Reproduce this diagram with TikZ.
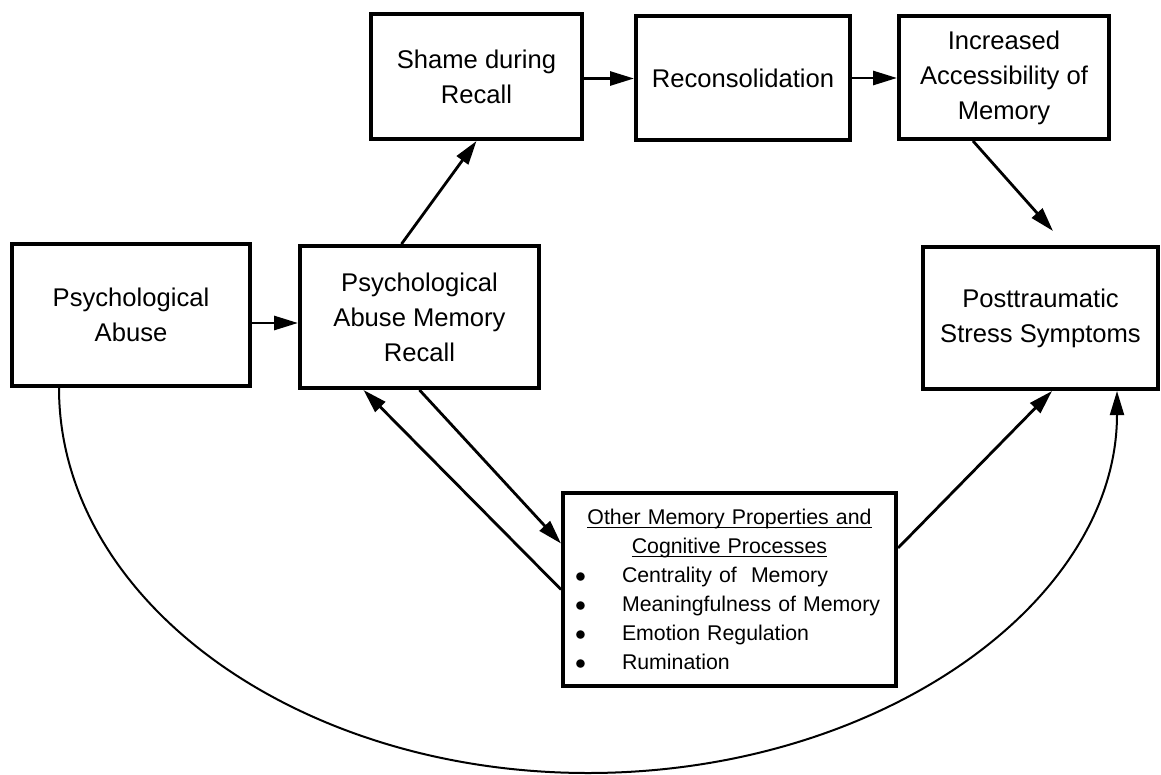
\documentclass[tikz,border=0pt]{standalone}
\usepackage{fontspec}
\setmainfont{Liberation Sans}
\usetikzlibrary{arrows.meta}

\newcommand\headline[1]{\makebox[\hsize]{\underline{\smash{#1}}\vphantom{#1}}}
\newcommand\listitem{\makebox[23.5pt][l]{$\bullet$}}

\begin{document}
\begin{tikzpicture}[x=0.5pt, y=-0.5pt,
  block/.style={draw, line width=2pt, align=center, inner sep=0pt, font=\fontsize{12.8}{17.5}\selectfont},
  listblock/.style={draw, line width=2pt, align=left, inner xsep=6pt, inner ysep=0pt, text width=154.5pt, minimum height=96.5pt, font=\fontsize{10.65}{14.5}\selectfont},
  arrowline/.style={line width=1.4pt, -{Triangle[length=12pt,width=7pt]}},
  loopline/.style={line width=1pt, -{Triangle[length=12pt,width=7pt]}}]
\useasboundingbox (0,0) rectangle (1161,775);
\node[block, minimum width=119pt, minimum height=71pt] (abuse) at (131,315) {Psychological\\Abuse};
\node[block, minimum width=119.5pt, minimum height=71pt] (recall) at (419.5,317) {Psychological\\Abuse Memory\\Recall};
\node[block, minimum width=105.5pt, minimum height=62.5pt] (shame) at (476.5,76.5) {Shame during\\Recall};
\node[block, minimum width=107pt, minimum height=62pt] (recons) at (743,78) {Reconsolidation};
\node[block, minimum width=105pt, minimum height=61.5pt] (incr) at (1004,77.5) {Increased\\Accessibility of\\Memory};
\node[block, minimum width=117.5pt, minimum height=71pt] (ptss) at (1040.5,318) {Posttraumatic\\Stress Symptoms};
\node[listblock] (other) at (729.5,589.5) {\headline{Other Memory Properties and}\\
  \headline{Cognitive Processes}\\
  \listitem Centrality of~ Memory\\
  \listitem Meaningfulness of Memory\\
  \listitem Emotion Regulation\\
  \listitem Rumination};
\coordinate (ptsstip) at (1053,231);
\coordinate (arcbottom) at (588,773);
\draw[arrowline] ([yshift=-4pt]abuse.east) -- ([yshift=-4pt]abuse.east -| recall.west);
\draw[arrowline] ([xshift=-9pt]recall.north) -- (shame.south);
\draw[arrowline] ([yshift=-1pt]shame.east) -- ([yshift=-1pt]shame.east -| recons.west);
\draw[arrowline] (recons.east) -- (recons.east -| incr.west);
\draw[arrowline] ([xshift=-15.5pt]incr.south) -- (ptsstip);
\draw[arrowline] (recall.south) -- ([yshift=23pt]other.west);
\draw[arrowline] (other.west) -- ([xshift=-28pt]recall.south);
\draw[arrowline] ([yshift=20.75pt]other.east) -- ([xshift=5.75pt]ptss.south);
\draw[loopline] ([xshift=-36pt]abuse.south) .. controls +(0,212) and +(-292,0) .. (arcbottom) .. controls +(292,0) and +(0,211) .. ([xshift=38.25pt]ptss.south);
\end{tikzpicture}
\end{document}
